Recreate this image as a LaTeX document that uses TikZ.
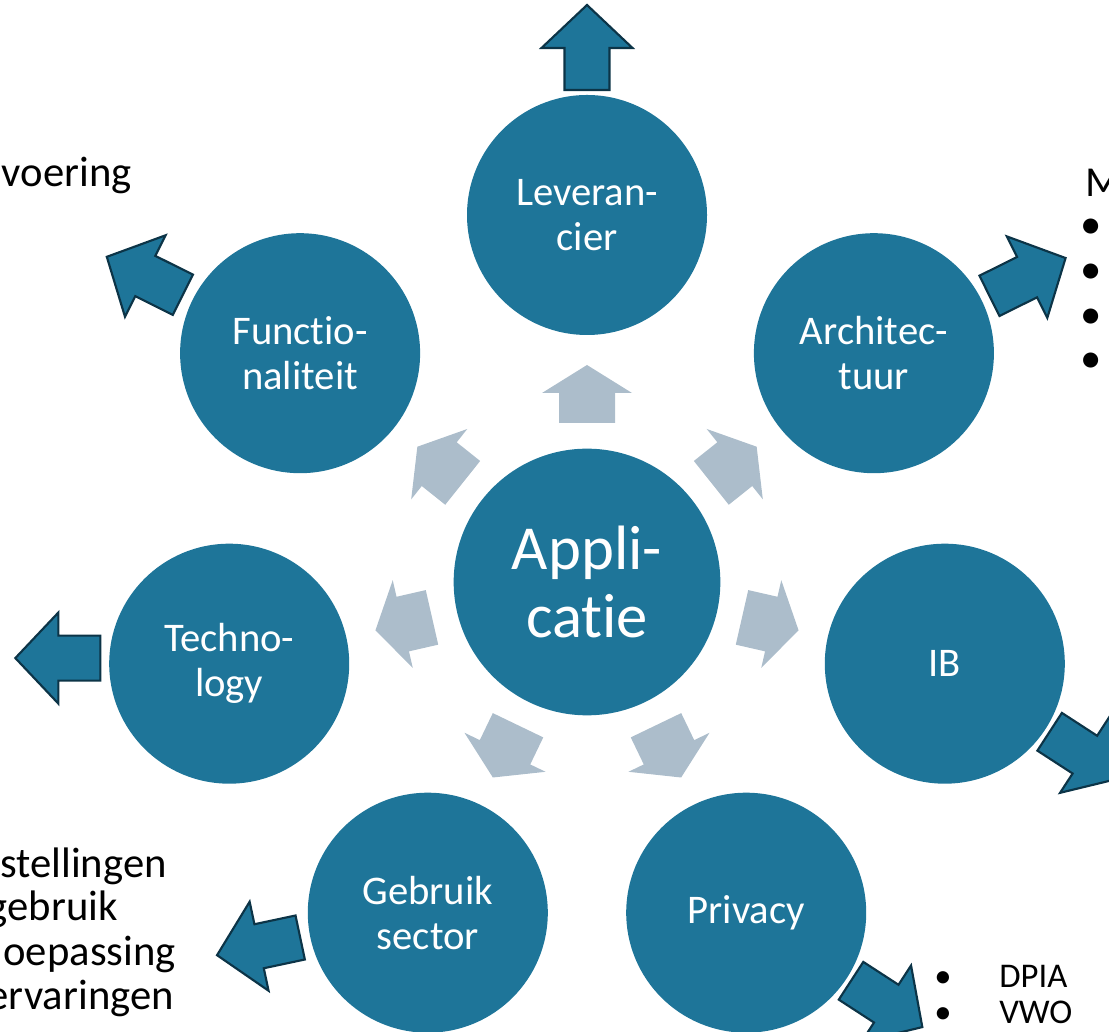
\documentclass[tikz,border=0pt]{standalone}
\usepackage{fontspec}
\setmainfont[Ligatures=NoCommon]{Carlito}
\definecolor{appblue}{RGB}{30,117,153}
\definecolor{arrowgrey}{RGB}{172,189,203}
\definecolor{arrowline}{RGB}{12,52,71}
\begin{document}
\begin{tikzpicture}[x=75pt, y=75pt,
  hub/.style={shape=circle, fill=appblue, text=white, minimum size=200pt, inner sep=0pt, align=center, font=\fontsize{47}{51}\selectfont},
  topic/.style={shape=circle, fill=appblue, text=white, minimum size=180pt, inner sep=0pt, align=center, font=\fontsize{30.5}{33.75}\selectfont},
  note/.style={inner sep=0pt, text=black, font=\fontsize{32}{34}\selectfont},
  smallnote/.style={inner sep=0pt, text=black, font=\fontsize{26}{30}\selectfont},
  greyarrow/.pic={\fill[arrowgrey] (0,-0.28) -- (0.30,-0.28) -- (0.30,-0.45) -- (0.58,0) -- (0.30,0.45) -- (0.30,0.28) -- (0,0.28) -- cycle;},
  outarrow/.pic={\filldraw[fill=appblue, draw=arrowline, line width=1.6pt] (0,-0.225) -- (0.42,-0.225) -- (0.42,-0.455) -- (0.85,0) -- (0.42,0.455) -- (0.42,0.225) -- (0,0.225) -- cycle;}
]
\useasboundingbox (0,0) rectangle (11.09,10.31);
\clip (0,0) rectangle (11.09,10.31);
\node[hub] (app) at (5.87,4.49) {Appli-\\catie};
\node[topic] (lev) at (5.87,8.16) {Leveran-\\cier};
\node[topic] (arch) at (8.739,6.778) {Architec-\\tuur};
\node[topic] (ib) at (9.448,3.673) {IB};
\node[topic] (priv) at (7.462,1.183) {Privacy};
\node[topic] (gebr) at (4.278,1.183) {Gebruik\\sector};
\node[topic] (tech) at (2.292,3.673) {Techno-\\logy};
\node[topic] (func) at (3.001,6.778) {Functio-\\naliteit};
% grey arrows round the hub
\pic[rotate=90] at ([shift={(90:1.59)}]app) {greyarrow};
\pic[rotate=38.57] at ([shift={(38.57:1.59)}]app) {greyarrow};
\pic[rotate=-12.86] at ([shift={(-12.86:1.59)}]app) {greyarrow};
\pic[rotate=-64.29] at ([shift={(-64.29:1.59)}]app) {greyarrow};
\pic[rotate=-115.71] at ([shift={(-115.71:1.59)}]app) {greyarrow};
\pic[rotate=-167.14] at ([shift={(-167.14:1.59)}]app) {greyarrow};
\pic[rotate=141.43] at ([shift={(141.43:1.59)}]app) {greyarrow};
% outer arrows
\pic[rotate=90] at ([shift={(90:1.25)}]lev) {outarrow};
\pic[rotate=26.4] at ([shift={(26.4:1.29)}]arch) {outarrow};
\pic[rotate=-33] at ([shift={(-33:1.25)}]ib) {outarrow};
\pic[rotate=-33] at ([shift={(-33:1.25)}]priv) {outarrow};
\pic[rotate=192] at ([shift={(191:1.30)}]gebr) {outarrow};
\pic[rotate=180] at ([shift={(177.5:1.29)}]tech) {outarrow};
\pic[rotate=153.5] at ([shift={(153.5:1.31)}]func) {outarrow};
% texts at the edges
\node[note, anchor=base east] (t1) at (1.32,8.44) {voering};
\node[note, anchor=base west] (t2) at (10.85,8.34) {M};
\node[note, anchor=base] (b1) at (10.91,7.92) {•};
\node[note, anchor=base] (b2) at (10.91,7.47) {•};
\node[note, anchor=base] (b3) at (10.91,7.02) {•};
\node[note, anchor=base] (b4) at (10.91,6.58) {•};
\node[note, anchor=base east] (g1) at (1.67,1.54) {stellingen};
\node[note, anchor=base east] (g2) at (1.18,1.10) {gebruik};
\node[note, anchor=base east] (g3) at (1.76,0.66) {oepassing};
\node[note, anchor=base east] (g4) at (1.74,0.22) {ervaringen};
\node[smallnote, anchor=base] (p1) at (9.43,0.44) {•};
\node[smallnote, anchor=base] (p2) at (9.43,0.08) {•};
\node[smallnote, anchor=base west] (d1) at (9.99,0.44) {DPIA};
\node[smallnote, anchor=base west] (d2) at (9.99,0.08) {VWO};
\end{tikzpicture}
\end{document}
